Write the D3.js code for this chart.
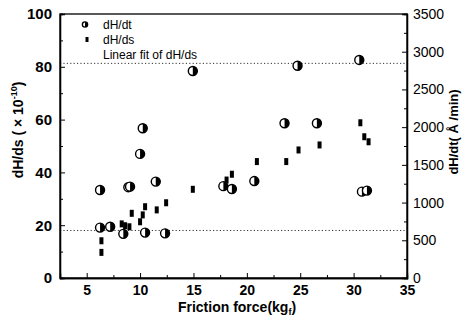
<!DOCTYPE html>
<html>
<head>
<meta charset="utf-8">
<script src="https://cdn.jsdelivr.net/npm/d3@7"></script>
<style>
body { margin:0; background:#fff; }
svg { font-family: Arial, "Liberation Sans", sans-serif; }
.axis path, .axis line { stroke:#000; }
</style>
</head>
<body>
<div id="chart"></div>
<script>
// dH/dt (right axis, A/min) vs friction force
var dtForce = [6.25, 6.25, 7.2, 8.43, 8.9, 9.06, 10.0, 10.25, 10.47, 11.47, 12.34, 14.94, 17.8, 18.6, 20.7, 23.53, 24.75, 26.56, 30.53, 30.78, 31.25];
var dtRate  = [1166, 668, 679, 585, 1204, 1211, 1645, 1985, 602, 1278, 592, 2744, 1218, 1180, 1285, 2051, 2814, 2051, 2891, 1145, 1159];

// dH/ds (left axis, x 10^-10)
var dsForce = [6.38, 6.38, 8.28, 8.6, 9.0, 9.22, 10.0, 10.25, 10.47, 11.56, 12.44, 14.94, 18.1, 18.6, 20.94, 23.69, 24.84, 26.81, 30.63, 31.0, 31.4];
var dsValue = [14.1, 9.7, 20.5, 19.8, 19.4, 24.5, 21.3, 23.9, 27.0, 25.8, 28.5, 33.6, 37.1, 39.3, 44.1, 44.1, 48.5, 50.4, 58.8, 53.5, 51.6];

// horizontal dotted levels of the fit (left axis units)
var fitLevels = [18.0, 81.3];

var xTicks = [5, 10, 15, 20, 25, 30, 35];
var yLeftTicks = [0, 20, 40, 60, 80, 100];
var yRightTicks = [0, 500, 1000, 1500, 2000, 2500, 3000, 3500];
var legendLabels = ["dH/dt", "dH/ds", "Linear fit of dH/ds"];

var margin = { top:14, right:63, bottom:49, left:60 },
	width = 470 - margin.left - margin.right,
	height = 327 - margin.top - margin.bottom;

var x = d3.scaleLinear().domain([2.5, 35]).range([0, width]);
var yL = d3.scaleLinear().domain([0, 100]).range([height, 0]);
var yR = d3.scaleLinear().domain([0, 3500]).range([height, 0]);

var svg = d3.select("#chart").append("svg")
	.attr("width", 470).attr("height", 327)
	.append("g").attr("transform", "translate(" + margin.left + "," + margin.top + ")");

// frame
svg.append("rect").attr("width", width).attr("height", height)
	.attr("fill", "none").attr("stroke", "#000").attr("stroke-width", 1.3);

// fit lines
svg.selectAll(".fit").data(fitLevels).enter().append("line")
	.attr("class", "fit")
	.attr("x1", 0).attr("x2", width)
	.attr("y1", function(d) { return yL(d); }).attr("y2", function(d) { return yL(d); })
	.attr("stroke", "#333").attr("stroke-width", 1).attr("stroke-dasharray", "1.2,2.2");

// axes, ticks inward
var xax = svg.append("g").attr("class", "axis").attr("transform", "translate(0," + height + ")")
	.call(d3.axisBottom(x).tickValues(xTicks).tickSize(-5).tickPadding(7));
svg.append("g").attr("class", "axis").attr("transform", "translate(0," + height + ")")
	.call(d3.axisBottom(x).tickValues(d3.range(2.5, 35, 5)).tickSize(-3).tickFormat(""));
xax.selectAll("text").attr("font-size", 14).attr("font-weight", "bold").attr("fill", "#000");

var lax = svg.append("g").attr("class", "axis")
	.call(d3.axisLeft(yL).tickValues(yLeftTicks).tickSize(-5).tickPadding(8));
svg.append("g").attr("class", "axis")
	.call(d3.axisLeft(yL).tickValues(d3.range(10, 100, 20)).tickSize(-3).tickFormat(""));
lax.selectAll("text").attr("font-size", 15).attr("font-weight", "bold").attr("fill", "#000");

var rax = svg.append("g").attr("class", "axis").attr("transform", "translate(" + width + ",0)")
	.call(d3.axisRight(yR).tickValues(yRightTicks).tickSize(-5).tickPadding(6).tickFormat(d3.format("d")));
svg.append("g").attr("class", "axis").attr("transform", "translate(" + width + ",0)")
	.call(d3.axisRight(yR).tickValues(d3.range(250, 3500, 500)).tickSize(-3).tickFormat(""));
rax.selectAll("text").attr("font-size", 14).attr("fill", "#000");
svg.selectAll(".axis .domain").attr("stroke-width", 1.3);

// dH/ds markers
svg.selectAll(".sq").data(dsForce).enter().append("rect")
	.attr("class", "sq")
	.attr("x", function(d) { return x(d) - 2; })
	.attr("y", function(d, i) { return yL(dsValue[i]) - 3.5; })
	.attr("width", 4).attr("height", 7).attr("fill", "#000");

// dH/dt markers: half filled circles
function halfCircle(g, cx, cy, r) {
	g.append("circle").attr("cx", cx).attr("cy", cy).attr("r", r)
		.attr("fill", "#fff").attr("stroke", "#000").attr("stroke-width", 1.4);
	g.append("path")
		.attr("d", "M" + cx + "," + (cy - r) + " A" + r + "," + r + " 0 0 1 " + cx + "," + (cy + r) + " Z")
		.attr("fill", "#000");
}
var dots = svg.append("g");
dtForce.forEach(function(d, i) { halfCircle(dots, x(d), yR(dtRate[i]), 4.5); });

// legend
var leg = svg.append("g").attr("font-size", 12);
halfCircle(leg, 25, 10.5, 2.6);
leg.append("rect").attr("x", 25.5).attr("y", 23).attr("width", 3).attr("height", 5).attr("fill", "#000");
leg.selectAll("text").data(legendLabels).enter().append("text")
	.attr("x", 43).attr("y", function(d, i) { return 14.5 + i * 15; })
	.text(function(d) { return d; });

// axis titles
var xt = svg.append("text").attr("x", 177).attr("y", height + 34)
	.attr("text-anchor", "middle").attr("font-size", 14).attr("font-weight", "bold")
	.text("Friction force(kg");
xt.append("tspan").attr("font-size", 9).attr("dy", 3).text("f");
xt.append("tspan").attr("dy", -3).text(")");

var ylt = svg.append("text").attr("transform", "translate(-37," + (height / 2 - 16) + ") rotate(-90)")
	.attr("text-anchor", "middle").attr("font-size", 14).attr("font-weight", "bold")
	.text("dH/ds ( × 10");
ylt.append("tspan").attr("font-size", 9).attr("dy", -6).text("-10");
ylt.append("tspan").attr("dy", 6).text(")");

svg.append("text").attr("transform", "translate(" + (width + 51) + "," + (height / 2 - 14) + ") rotate(-90)")
	.attr("text-anchor", "middle").attr("font-size", 13).attr("font-weight", "bold")
	.text("dH/dt( Å /min)");
</script>
</body>
</html>
